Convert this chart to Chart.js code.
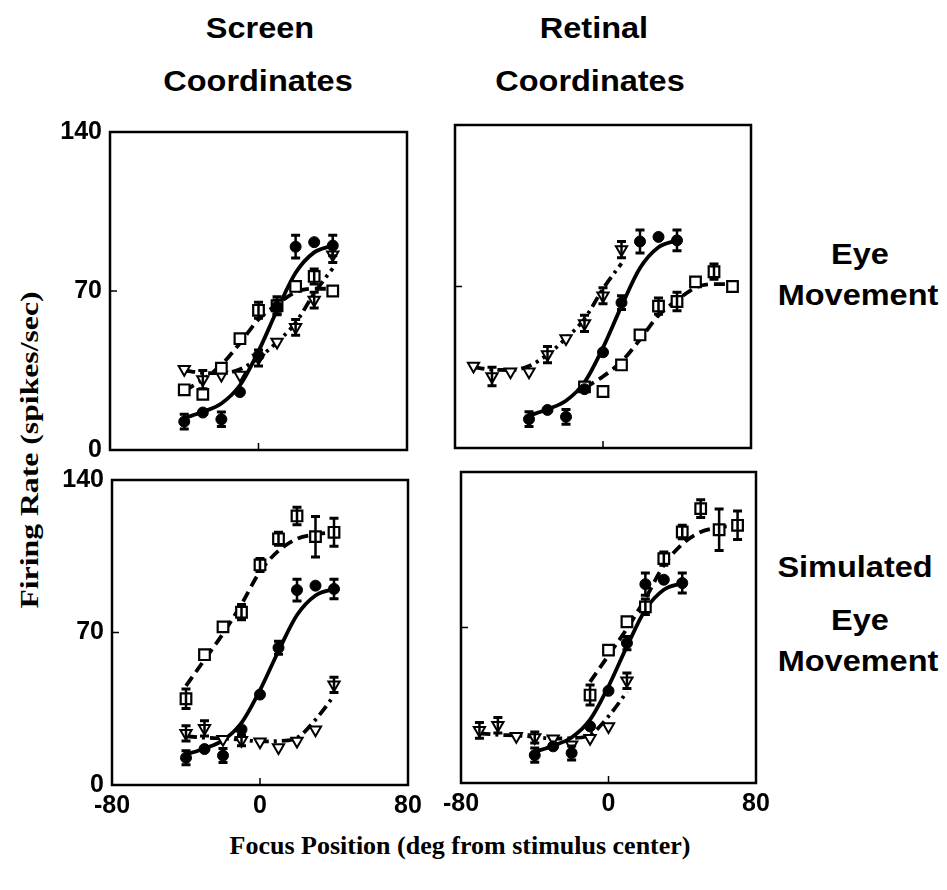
<!DOCTYPE html>
<html>
<head>
<meta charset="utf-8">
<script src="https://cdn.jsdelivr.net/npm/chart.js@4.4.1/dist/chart.umd.min.js"></script>
<style>
  body { margin: 0; background: #fff; }
  #wrap { position: relative; width: 947px; height: 890px; overflow: hidden; }
  canvas { position: absolute; }
  .lbl {
    position: absolute; white-space: nowrap; color: #000;
    font-family: "Liberation Sans", Arial, sans-serif; font-weight: bold;
    font-size: 29px; line-height: 29px;
  }
  .ax {
    position: absolute; white-space: nowrap; color: #000;
    font-family: "Liberation Serif", "Times New Roman", serif; font-weight: bold;
    font-size: 26px; line-height: 26px;
  }
</style>
</head>
<body>
<div id="wrap">
  <div class="lbl" style="left:260px;top:28px;transform:translate(-50%,-50%) scaleX(1.12)">Screen</div>
  <div class="lbl" style="left:258px;top:81px;transform:translate(-50%,-50%) scaleX(1.12)">Coordinates</div>
  <div class="lbl" style="left:594px;top:28px;transform:translate(-50%,-50%) scaleX(1.12)">Retinal</div>
  <div class="lbl" style="left:590px;top:81px;transform:translate(-50%,-50%) scaleX(1.12)">Coordinates</div>
  <div class="lbl" style="left:860px;top:254px;transform:translate(-50%,-50%) scaleX(1.12)">Eye</div>
  <div class="lbl" style="left:858px;top:295px;transform:translate(-50%,-50%) scaleX(1.12)">Movement</div>
  <div class="lbl" style="left:855px;top:567px;transform:translate(-50%,-50%) scaleX(1.12)">Simulated</div>
  <div class="lbl" style="left:860px;top:620px;transform:translate(-50%,-50%) scaleX(1.12)">Eye</div>
  <div class="lbl" style="left:858px;top:661px;transform:translate(-50%,-50%) scaleX(1.12)">Movement</div>
  <div class="ax" style="left:30px;top:450px;transform:translate(-50%,-50%) rotate(-90deg) scaleX(1.22)">Firing Rate (spikes/sec)</div>
  <div class="ax" style="left:460px;top:846px;transform:translate(-50%,-50%)">Focus Position (deg from stimulus center)</div>
</div>
<script>
// focus positions (deg)
const xCenter = [-40, -30, -20, -10, 0, 10, 20, 30, 40];
const xShiftRight = [-10, 0, 10, 20, 30, 40, 50, 60, 70];
const xShiftLeft = [-70, -60, -50, -40, -30, -20, -10, 0, 10];

// filled circles, same in every panel
const circleRate = [12.5, 16.5, 13.5, 25.5, 41.5, 63, 89.5, 91.5, 90];
const circleErr = [3.2, 0, 3.2, 0, 0, 3, 5, 0, 4.5];
const circleFit = [14, 16.8, 20.5, 28.5, 43.5, 61.5, 78, 87, 90];

// eye movement: squares and triangles
const eyeSquareRate = [26.5, 24.5, 36, 49, 61.5, 63.5, 72, 76.4, 70];
const eyeSquareErr = [0, 0, 0, 0, 3.5, 4, 0, 3.3, 0];
const eyeSquareFit = [26, 31, 37.5, 47, 57.5, 64, 69.5, 71, 71];
const eyeTriRate = [35.5, 31, 33, 33, 40.5, 47.5, 54, 66, 86];
const eyeTriErr = [0, 4, 0, 0, 3.5, 0, 3.5, 3.5, 3.5];
const eyeTriFit = [35, 34, 33.8, 35.5, 40.5, 47.5, 56, 69, 80];

// simulated eye movement
const simSquareRate = [39.6, 59.8, 72.6, 79.3, 101, 113, 123.5, 114, 116];
const simSquareErr = [4.5, 0, 0, 3.5, 3, 3, 4, 9.3, 6.4];
const simSquareFit = [45.5, 57.5, 69.5, 83, 98, 107.5, 113, 115, 116];
const simTriRate = [23.7, 26, 21, 20.5, 19.9, 17.2, 20.2, 25.4, 46];
const simTriErr = [3.5, 3.5, 0, 2.5, 0, 0, 0, 0, 3.5];
const simTriFit = [22.4, 21.7, 21.4, 20.8, 20, 20.2, 21.7, 30, 41];

const yTicks = [0, 70, 140];
const xTicks = [-80, 0, 80];

const toPts = (xs, ys) => xs.map((x, i) => ({ x: x, y: ys[i] }));

const tickFont = { family: '"Liberation Sans", Arial, sans-serif', size: 25, weight: 'bold' };

const decor = {
  id: 'decor',
  afterDatasetsDraw(chart) {
    const ctx = chart.ctx;
    const ys = chart.scales.y;
    ctx.save();
    ctx.strokeStyle = '#000';
    ctx.lineWidth = 2.5;
    chart.data.datasets.forEach((ds, i) => {
      if (!ds.errors) return;
      const meta = chart.getDatasetMeta(i);
      meta.data.forEach((pt, j) => {
        const e = ds.errors[j];
        if (!e) return;
        const v = ds.data[j].y;
        const top = ys.getPixelForValue(v + e);
        const bot = ys.getPixelForValue(v - e);
        ctx.beginPath();
        ctx.moveTo(pt.x, top); ctx.lineTo(pt.x, bot);
        ctx.stroke();
        ctx.lineWidth = 3;
        ctx.beginPath();
        ctx.moveTo(pt.x - 4.5, top); ctx.lineTo(pt.x + 4.5, top);
        ctx.moveTo(pt.x - 4.5, bot); ctx.lineTo(pt.x + 4.5, bot);
        ctx.stroke();
        ctx.lineWidth = 2.5;
      });
    });
    ctx.restore();
  },
  afterDraw(chart) {
    const ctx = chart.ctx;
    const a = chart.chartArea;
    ctx.save();
    ctx.strokeStyle = '#000';
    ctx.lineWidth = 2.5;
    ctx.strokeRect(a.left, a.top, a.right - a.left, a.bottom - a.top);
    // inward ticks
    ctx.lineWidth = 1.5;
    const y70 = chart.scales.y.getPixelForValue(70);
    const x0 = chart.scales.x.getPixelForValue(0);
    ctx.beginPath();
    ctx.moveTo(a.left, y70); ctx.lineTo(a.left + 7, y70);
    ctx.moveTo(x0, a.bottom); ctx.lineTo(x0, a.bottom - 7);
    ctx.stroke();
    ctx.restore();
  }
};

const makePanel = (id, box, opts) => {
  const c = document.createElement('canvas');
  c.id = id;
  const w = box.w + 80, h = box.h + 16 + 45;
  c.width = w; c.height = h;
  c.style.left = (box.left - 60) + 'px';
  c.style.top = (box.top - 16) + 'px';
  c.style.width = w + 'px'; c.style.height = h + 'px';
  document.getElementById('wrap').appendChild(c);

  const lineDs = (pts, dash) => ({
    data: pts, showLine: true, pointRadius: 0, borderColor: '#000',
    borderWidth: 3.8, borderDash: dash, tension: 0.4, cubicInterpolationMode: 'monotone',
    fill: false, order: 2
  });
  const markDs = (pts, errs, style) => Object.assign({
    data: pts, errors: errs, showLine: false, borderColor: '#000', order: 1
  }, style);

  const circleStyle = { pointStyle: 'circle', pointRadius: 5.5, pointBackgroundColor: '#000', pointBorderWidth: 1 };
  const squareStyle = { pointStyle: 'rect', pointRadius: 7.5, pointBackgroundColor: '#fff', pointBorderWidth: 2.2 };
  const triStyle = { pointStyle: 'triangle', pointRadius: 6.5, pointRotation: 180, pointBackgroundColor: '#fff', pointBorderWidth: 2 };

  return new Chart(c.getContext('2d'), {
    type: 'scatter',
    data: {
      datasets: [
        lineDs(toPts(xCenter, circleFit), []),
        lineDs(toPts(opts.sqX, opts.sqFit), [11, 6]),
        lineDs(toPts(opts.trX, opts.trFit), [11, 5, 3, 5]),
        markDs(toPts(xCenter, circleRate), circleErr, circleStyle),
        markDs(toPts(opts.sqX, opts.sqRate), opts.sqErr, squareStyle),
        markDs(toPts(opts.trX, opts.trRate), opts.trErr, triStyle),
      ]
    },
    options: {
      responsive: false,
      animation: false,
      devicePixelRatio: 1,
      layout: { padding: { top: 16, right: 20, bottom: 0, left: 0 } },
      plugins: { legend: { display: false }, tooltip: { enabled: false } },
      scales: {
        x: {
          type: 'linear', min: -80, max: 80,
          afterBuildTicks: (s) => { s.ticks = xTicks.map(v => ({ value: v })); },
          afterFit: (s) => { s.height = 45; },
          grid: { display: false, drawTicks: false },
          border: { display: false },
          ticks: { display: opts.showX, color: '#000', font: tickFont, padding: 6, maxRotation: 0 }
        },
        y: {
          type: 'linear', min: 0, max: 140,
          afterBuildTicks: (s) => { s.ticks = yTicks.map(v => ({ value: v })); },
          afterFit: (s) => { s.width = 60; },
          grid: { display: false, drawTicks: false },
          border: { display: false },
          ticks: { display: opts.showY, color: '#000', font: tickFont, padding: 8 }
        }
      }
    },
    plugins: [decor]
  });
};

const eyeScreen = { sqX: xCenter, sqRate: eyeSquareRate, sqErr: eyeSquareErr, sqFit: eyeSquareFit,
  trX: xCenter, trRate: eyeTriRate, trErr: eyeTriErr, trFit: eyeTriFit };
const eyeRetinal = Object.assign({}, eyeScreen, { sqX: xShiftRight, trX: xShiftLeft });
const simScreen = { sqX: xCenter, sqRate: simSquareRate, sqErr: simSquareErr, sqFit: simSquareFit,
  trX: xCenter, trRate: simTriRate, trErr: simTriErr, trFit: simTriFit };
const simRetinal = Object.assign({}, simScreen, { sqX: xShiftRight, trX: xShiftLeft });

makePanel('tl', { left: 110, top: 125, w: 297, h: 325 }, Object.assign({ showX: false, showY: true }, eyeScreen));
makePanel('tr', { left: 455, top: 125, w: 296, h: 323 }, Object.assign({ showX: false, showY: false }, eyeRetinal));
makePanel('bl', { left: 112, top: 473, w: 296, h: 312 }, Object.assign({ showX: true, showY: true }, simScreen));
makePanel('br', { left: 461, top: 472, w: 295, h: 311 }, Object.assign({ showX: true, showY: false }, simRetinal));
</script>
</body>
</html>
